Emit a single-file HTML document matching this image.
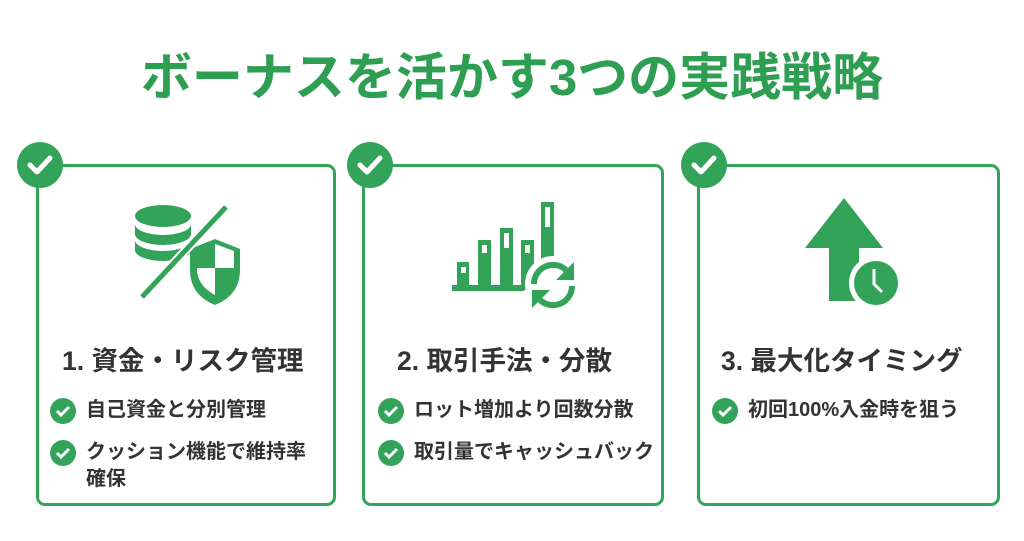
<!DOCTYPE html>
<html><head><meta charset="utf-8"><style>
body{margin:0;width:1024px;height:541px;background:#fff;font-family:"Liberation Sans","Noto Sans CJK JP",sans-serif;position:relative;overflow:hidden}
.t{position:absolute;left:0;width:1024px;top:46px;text-align:center;font-size:51px;font-weight:bold;color:#2e9e52;line-height:64px}
.card{position:absolute;top:164px;height:342px;border:3px solid #34a35a;border-radius:9px;box-sizing:border-box;background:#fff}
.chk{position:absolute;width:46px;height:46px;border-radius:50%;background:#34a35a;top:142px}
.chk svg{position:absolute;left:0;top:0}
.h{position:absolute;font-size:26.5px;font-weight:bold;color:#333;top:339px;white-space:nowrap}
.it{position:absolute;font-size:20px;font-weight:bold;color:#333;line-height:27px;white-space:nowrap}
.it .c{position:absolute;left:-36px;top:1px;width:26px;height:26px;border-radius:50%;background:#34a35a}
</style></head><body>
<div class="t">ボーナスを活かす3つの実践戦略</div>

<div class="card" style="left:36px;width:300px"></div>
<div class="card" style="left:362px;width:302px"></div>
<div class="card" style="left:697px;width:303px"></div>

<div class="chk" style="left:17px"><svg width="46" height="46"><path d="M13 23l7 7 13-14" stroke="#fff" stroke-width="5" fill="none" stroke-linecap="round" stroke-linejoin="round"/></svg></div>
<div class="chk" style="left:347px"><svg width="46" height="46"><path d="M13 23l7 7 13-14" stroke="#fff" stroke-width="5" fill="none" stroke-linecap="round" stroke-linejoin="round"/></svg></div>
<div class="chk" style="left:681px"><svg width="46" height="46"><path d="M13 23l7 7 13-14" stroke="#fff" stroke-width="5" fill="none" stroke-linecap="round" stroke-linejoin="round"/></svg></div>

<!-- icon 1 -->
<svg style="position:absolute;left:130px;top:200px" width="120" height="105">
<g fill="#34a35a">
<ellipse cx="33" cy="16" rx="28" ry="11"/>
<path d="M5 24a28 11 0 0 0 56 0v10a28 11 0 0 1-56 0z"/>
<path d="M5 40a28 11 0 0 0 56 0v10a28 11 0 0 1-56 0z"/>
<path d="M85 105c-20-8-25-22-25-36v-20l25-10 25 10v20c0 14-5 28-25 36z"/>
</g>
<path d="M85 46v22h-18v3c1 10 7 18 18 24v-27h19v-17l-19-7z" fill="#fff"/>
<line x1="12" y1="97" x2="96" y2="7" stroke="#fff" stroke-width="9"/>
<line x1="12" y1="97" x2="96" y2="7" stroke="#34a35a" stroke-width="5"/>
</svg>

<!-- icon 2 -->
<svg style="position:absolute;left:450px;top:200px" width="130" height="110">
<g fill="#34a35a">
<rect x="2" y="85" width="72" height="6"/>
<rect x="7" y="62" width="12" height="28"/>
<rect x="28" y="40" width="13" height="50"/>
<rect x="50" y="28" width="13" height="62"/>
<rect x="71" y="40" width="13" height="50"/>
<rect x="91" y="2" width="13" height="85"/>
</g>
<g fill="#fff"><rect x="11" y="67" width="5" height="6"/><rect x="32" y="45" width="5" height="8"/><rect x="54" y="33" width="5" height="15"/><rect x="75" y="45" width="5" height="8"/><rect x="95" y="7" width="5" height="20"/></g>
<circle cx="103" cy="84" r="28" fill="#fff"/>
<path d="M84 84a19 19 0 0 1 32-14" stroke="#34a35a" stroke-width="6" fill="none"/>
<path d="M124 62v18h-18z" fill="#34a35a"/>
<path d="M122 86a19 19 0 0 1-32 14" stroke="#34a35a" stroke-width="6" fill="none"/>
<path d="M82 108v-18h18z" fill="#34a35a"/>
</svg>

<!-- icon 3 -->
<svg style="position:absolute;left:800px;top:195px" width="110" height="115">
<g fill="#34a35a">
<path d="M44 3l39 50h-24v53h-30v-53h-24z"/>
</g>
<circle cx="76" cy="88" r="27" fill="#fff"/>
<circle cx="76" cy="88" r="22" fill="#34a35a"/>
<path d="M74 74v15l8 8" stroke="#fff" stroke-width="3" fill="none"/>
</svg>

<div class="h" style="left:62px">1. 資金・リスク管理</div>
<div class="h" style="left:397px">2. 取引手法・分散</div>
<div class="h" style="left:721px">3. 最大化タイミング</div>

<div class="it" style="left:86px;top:397px"><span class="c"><svg width="26" height="26"><path d="M7 13l4 4 8-8" stroke="#fff" stroke-width="3" fill="none"/></svg></span>自己資金と分別管理</div>
<div class="it" style="left:86px;top:439px">
<span class="c"><svg width="26" height="26"><path d="M7 13l4 4 8-8" stroke="#fff" stroke-width="3" fill="none"/></svg></span>クッション機能で維持率<br>確保</div>
<div class="it" style="left:414px;top:397px"><span class="c"><svg width="26" height="26"><path d="M7 13l4 4 8-8" stroke="#fff" stroke-width="3" fill="none"/></svg></span>ロット増加より回数分散</div>
<div class="it" style="left:414px;top:439px"><span class="c"><svg width="26" height="26"><path d="M7 13l4 4 8-8" stroke="#fff" stroke-width="3" fill="none"/></svg></span>取引量でキャッシュバック</div>
<div class="it" style="left:748px;top:397px"><span class="c"><svg width="26" height="26"><path d="M7 13l4 4 8-8" stroke="#fff" stroke-width="3" fill="none"/></svg></span>初回100%入金時を狙う</div>
</body></html>
